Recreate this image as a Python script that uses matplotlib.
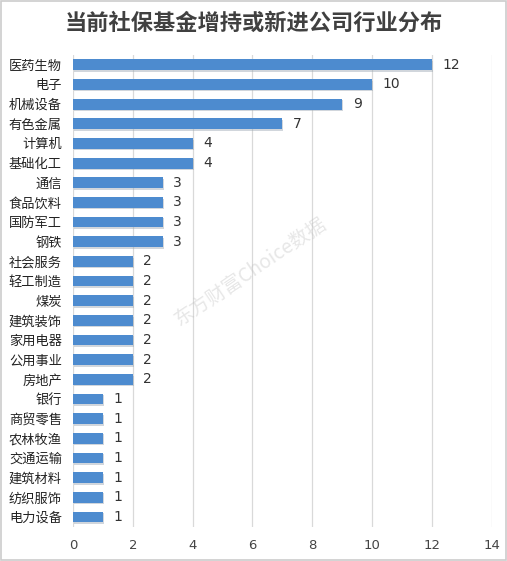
import matplotlib.pyplot as plt
from matplotlib.patches import Rectangle

plt.rcParams['font.family'] = ['Noto Sans CJK SC', 'DejaVu Sans']

industries = ['医药生物', '电子', '机械设备', '有色金属', '计算机', '基础化工', '通信',
              '食品饮料', '国防军工', '钢铁', '社会服务', '轻工制造', '煤炭', '建筑装饰',
              '家用电器', '公用事业', '房地产', '银行', '商贸零售', '农林牧渔', '交通运输',
              '建筑材料', '纺织服饰', '电力设备']
counts = [12, 10, 9, 7, 4, 4, 3, 3, 3, 3, 2, 2, 2, 2, 2, 2, 2, 1, 1, 1, 1, 1, 1, 1]
xticks = [0, 2, 4, 6, 8, 10, 12, 14]

fig = plt.figure(figsize=(5.07, 5.61), dpi=100)
ax = fig.add_axes([0.144, 0.061, 0.826, 0.841])

y = list(range(len(industries)))
# soft shadow under the bars
ax.barh([v + 0.08 for v in y], counts, height=0.55, left=0.03, color='#9aa6b2', alpha=0.45, zorder=2)
ax.barh(y, counts, height=0.55, color='#4d8bcf', zorder=3)
for yi, v in zip(y, counts):
    ax.text(v + 0.35, yi, str(v), va='center', ha='left', fontsize=10, color='#333333',
            family='DejaVu Sans')

ax.set_yticks(y)
ax.set_yticklabels(industries, fontsize=9.5, color='#222222')
ax.set_ylim(len(industries) - 0.5, -0.5)
ax.set_xlim(0, 14)
ax.set_xticks(xticks)
ax.set_xticklabels([str(t) for t in xticks], fontsize=9.5, color='#444444', family='DejaVu Sans')
ax.tick_params(length=0, pad=9)
ax.tick_params(axis='y', pad=8)
ax.grid(axis='x', color='#d9d9d9', lw=0.9, zorder=0)
for s in ax.spines.values():
    s.set_visible(False)

fig.text(0.5, 0.958, '当前社保基金增持或新进公司行业分布', ha='center', va='center',
         fontsize=16, fontweight='bold', color='#404040')
fig.text(0.495, 0.515, '东方财富Choice数据', ha='center', va='center', rotation=34,
         fontsize=14, color='#bbbbbb', alpha=0.35)

fig.patches.append(Rectangle((0.002, 0.002), 0.996, 0.996, transform=fig.transFigure,
                             fill=False, edgecolor='#cccccc', lw=1.2))

fig.savefig('out.png', dpi=100)
